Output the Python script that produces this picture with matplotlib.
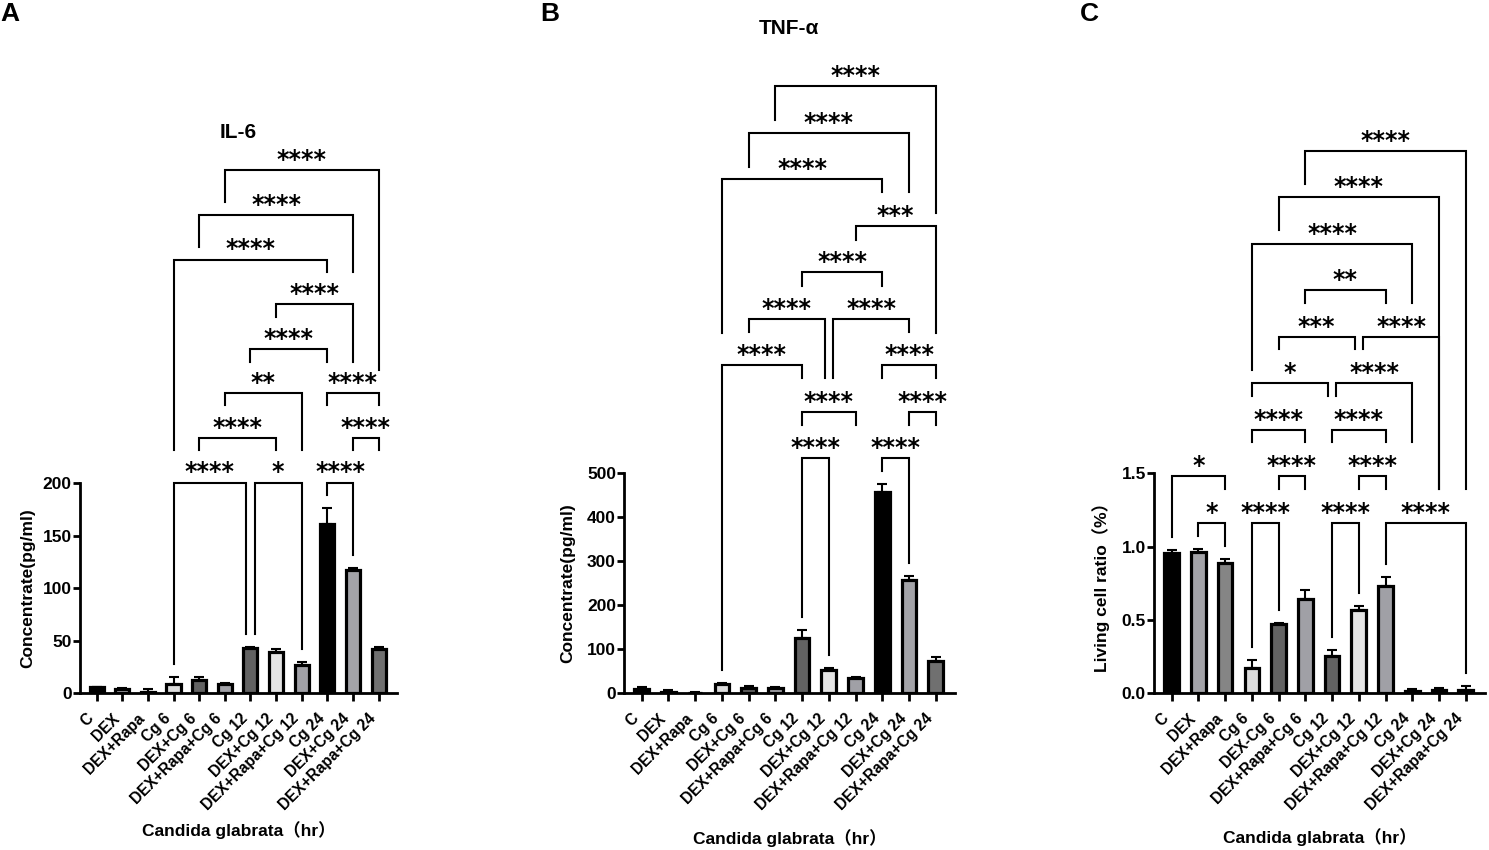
import numpy as np
import matplotlib
matplotlib.use("Agg")
import matplotlib.pyplot as plt
from matplotlib.transforms import offset_copy

plt.rcParams['font.family'] = ['Liberation Sans', 'Noto Sans CJK SC', 'DejaVu Sans']
plt.rcParams['font.weight'] = 'bold'

# group names (panel C has "DEX-Cg 6" as in the original)
groups = ['C', 'DEX', 'DEX+Rapa', 'Cg 6', 'DEX+Cg 6', 'DEX+Rapa+Cg 6',
          'Cg 12', 'DEX+Cg 12', 'DEX+Rapa+Cg 12', 'Cg 24', 'DEX+Cg 24', 'DEX+Rapa+Cg 24']
groups_c = ['C', 'DEX', 'DEX+Rapa', 'Cg 6', 'DEX-Cg 6', 'DEX+Rapa+Cg 6',
            'Cg 12', 'DEX+Cg 12', 'DEX+Rapa+Cg 12', 'Cg 24', 'DEX+Cg 24', 'DEX+Rapa+Cg 24']

# IL-6 (pg/ml)
il6 = [5.7, 3.8, 1.6, 9.0, 12.4, 9.0, 42.9, 39.4, 27.2, 161.3, 117.2, 41.9]
il6_err = [0.7, 1.6, 2.2, 7.0, 3.5, 0.6, 1.5, 2.8, 2.4, 15.5, 2.2, 2.6]

# TNF-a (pg/ml)
tnf = [10.6, 3.0, 1.0, 21.2, 11.4, 12.1, 125.0, 52.3, 34.0, 456.8, 258.3, 74.2]
tnf_err = [3.0, 5.3, 2.8, 2.3, 6.0, 2.9, 19.0, 4.5, 3.9, 18.2, 9.1, 7.6]

# living cell ratio
live = [0.959, 0.964, 0.886, 0.170, 0.470, 0.641, 0.252, 0.566, 0.730, 0.018, 0.020, 0.020]
live_err = [0.018, 0.018, 0.028, 0.057, 0.012, 0.061, 0.043, 0.029, 0.061, 0.009, 0.019, 0.028]

# significance brackets: (group i, group j, stars, level, left leg end, right leg end)
# leg end is in bracket-level units, None = drop to just above the bar
sig_a = [(5, 11, '****', 7, 6.28, 2.53), (4, 10, '****', 6, 5.29, 4.71),
         (3, 9, '****', 5, 0.73, 4.71), (7, 10, '****', 4, 3.72, 2.71),
         (6, 9, '****', 3, 2.71, 2.71), (5, 8, '**', 2, 1.74, 0.73),
         (9, 11, '****', 2, 1.74, 1.74), (4, 7, '****', 1, 0.73, 0.73),
         (10, 11, '****', 1, 0.73, 0.73), (3, 6, '****', 0, None, None),
         (6, 8, '*', 0, None, None), (9, 10, '****', 0, None, None)]
sig_b = [(5, 11, '****', 8, 7.27, 5.27), (4, 10, '****', 7, 6.27, 5.72),
         (3, 9, '****', 6, 2.70, 5.72), (8, 11, '***', 5, 4.70, 2.70),
         (6, 9, '****', 4, 3.71, 3.71), (4, 7, '****', 3, 2.72, 1.72),
         (7, 10, '****', 3, 1.72, 2.72), (3, 6, '****', 2, None, 1.72),
         (9, 11, '****', 2, 1.72, 1.72), (6, 8, '****', 1, 0.71, 0.71),
         (10, 11, '****', 1, 0.71, 0.71), (6, 7, '****', 0, None, None),
         (9, 10, '****', 0, None, None)]
sig_c = [(5, 11, '****', 8, 7.28, 0.72), (4, 10, '****', 7, 6.29, 0.72),
         (3, 9, '****', 6, 3.28, 4.73), (5, 8, '**', 5, 4.73, 4.73),
         (4, 7, '***', 4, 3.73, 3.73), (7, 10, '****', 4, 3.73, 0.72),
         (3, 6, '*', 3, 2.72, 2.72), (6, 9, '****', 3, 2.72, 1.74),
         (3, 5, '****', 2, 1.74, 1.74), (6, 8, '****', 2, 1.74, 1.74),
         (0, 2, '*', 1, None, 0.72), (4, 5, '****', 1, 0.72, 0.72),
         (7, 8, '****', 1, 0.72, 0.72), (1, 2, '*', 0, None, None),
         (3, 4, '****', 0, None, None), (6, 7, '****', 0, None, None),
         (8, 11, '****', 0, None, None)]

colors = ['#000000', '#a3a3a8', '#858585', '#dcdcdc', '#626262', '#a0a0a6',
          '#626262', '#e4e4e4', '#a0a0a6', '#000000', '#a3a3a8', '#707070']

W, H = 1489, 850
fig = plt.figure(figsize=(W / 100, H / 100), dpi=100)


def px_axes(x0, x1, y0, y1):
    return fig.add_axes([x0 / W, 1 - y1 / H, (x1 - x0) / W, (y1 - y0) / H])


def bar_panel(ax, names, vals, errs, ymax, yticks, ylab):
    x = np.arange(len(names))
    ax.bar(x, vals, width=0.55, color=colors, edgecolor='black', linewidth=2.3, zorder=2)
    ax.errorbar(x, vals, yerr=[np.zeros(len(vals)), errs], fmt='none', ecolor='black',
                elinewidth=1.5, capsize=3.6, capthick=1.5, zorder=3)
    ax.set_xlim(-0.65, 11.72)
    ax.set_ylim(0, ymax)
    ax.set_yticks(yticks)
    ax.set_xticks(x)
    ax.set_xticklabels(names, rotation=45, ha='right', fontsize=11.2, fontweight='bold')
    for lab in ax.get_yticklabels():
        lab.set_fontsize(12.5)
        lab.set_fontweight('bold')
    for s in ['top', 'right']:
        ax.spines[s].set_visible(False)
    for s in ['left', 'bottom']:
        ax.spines[s].set_linewidth(2)
    ax.tick_params(axis='y', length=5, width=2, pad=1)
    ax.tick_params(axis='x', length=6, width=2, pad=6.5)
    ax.set_ylabel(ylab, fontsize=12.5, fontweight='bold')
    ax.set_xlabel('Candida glabrata（hr）', fontsize=12.5, fontweight='bold')


def brackets(ax, sig, tops, base, step):
    p = ax.transData.transform([(0, 0), (0, 1)])
    ppu = p[1, 1] - p[0, 1]
    gap = 13 / ppu
    tr = offset_copy(ax.transData, fig=fig, y=2.3, units='points')
    for n, (i, j, s, lev, lb, rb) in enumerate(sig):
        xi, xj = float(i), float(j)
        for m, other in enumerate(sig):
            if m != n and other[3] == lev:
                if other[0] == j:
                    xj -= 0.16
                if other[1] == i:
                    xi += 0.16
        y = base + lev * step
        yl = tops[i] + gap if lb is None else base + lb * step
        yr = tops[j] + gap if rb is None else base + rb * step
        ax.plot([xi, xi, xj, xj], [yl, y, y, yr], color='black', lw=1.5,
                clip_on=False, solid_joinstyle='miter', zorder=4)
        ax.text((xi + xj) / 2, y, s, transform=tr, ha='center', va='baseline',
                fontsize=17, family='DejaVu Sans', fontweight='bold')


axA = px_axes(80, 397, 483.3, 693.3)
bar_panel(axA, groups, il6, il6_err, 200, [0, 50, 100, 150, 200], 'Concentrate(pg/ml)')
axA.yaxis.set_label_coords(-0.140, 0.5)
axA.xaxis.set_label_coords(0.5, -0.608)
brackets(axA, sig_a, np.add(il6, il6_err), 200.6, 42.5)

axB = px_axes(624.3, 955, 473.3, 693.3)
bar_panel(axB, groups, tnf, tnf_err, 500, [0, 100, 200, 300, 400, 500], 'Concentrate(pg/ml)')
axB.yaxis.set_label_coords(-0.148, 0.5)
axB.xaxis.set_label_coords(0.5, -0.617)
brackets(axB, sig_b, np.add(tnf, tnf_err), 534, 105.7)

axC = px_axes(1154.3, 1485, 473.3, 693.3)
bar_panel(axC, groups_c, live, live_err, 1.5, [0.0, 0.5, 1.0, 1.5], 'Living cell ratio（%）')
axC.set_yticklabels(['0.0', '0.5', '1.0', '1.5'], fontsize=12.5, fontweight='bold')
axC.yaxis.set_label_coords(-0.133, 0.5)
axC.xaxis.set_label_coords(0.5, -0.612)
brackets(axC, sig_c, np.add(live, live_err), 1.163, 0.317)

fig.text(238 / W, 1 - 133 / H, 'IL-6', ha='center', va='center', fontsize=15, fontweight='bold')
fig.text(789 / W, 1 - 29 / H, 'TNF-α', ha='center', va='center', fontsize=15, fontweight='bold')
for lx, letter in [(0, 'A'), (540, 'B'), (1080, 'C')]:
    fig.text(lx / W, 1 - 2 / H, letter, ha='left', va='top', fontsize=19, fontweight='bold')

fig.savefig('out.png', dpi=100)
